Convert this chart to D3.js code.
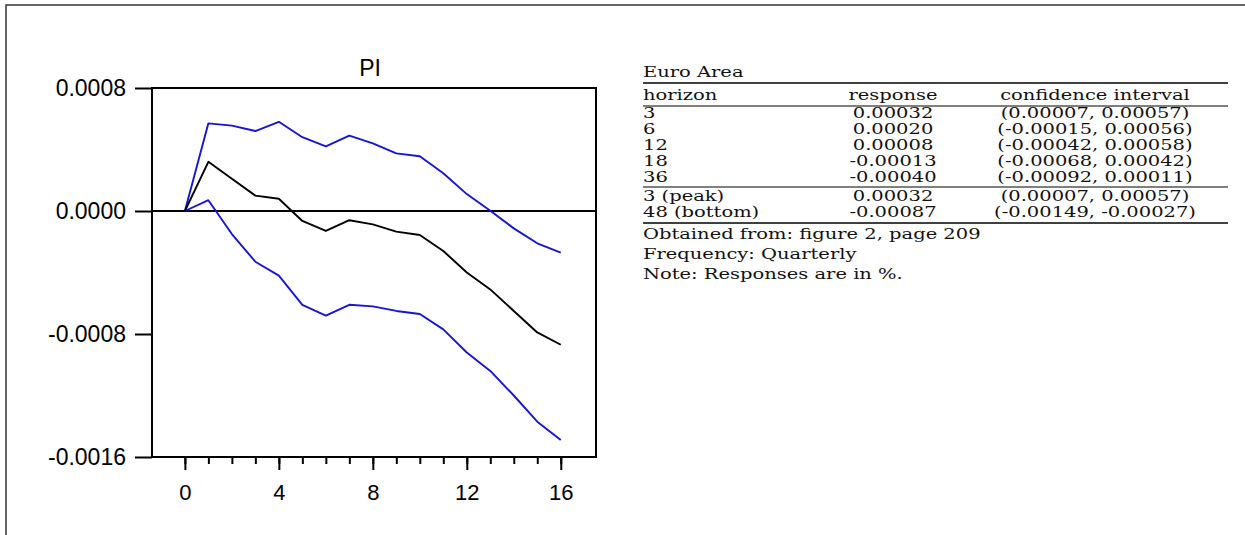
<!DOCTYPE html>
<html>
<head>
<meta charset="utf-8">
<script src="https://cdn.jsdelivr.net/npm/d3@7"></script>
<style>
    body { margin: 0; background: white; }
    .tickText { font-family: "Liberation Sans", Arial, sans-serif; }
    .tabText { font-family: "DejaVu Serif", serif; font-size: 15px; fill: #111; }
</style>
</head>
<body>
<script>
// quarters after the shock
const horizon = [0, 1, 2, 3, 4, 5, 6, 7, 8, 9, 10, 11, 12, 13, 14, 15, 16];
const response = [0, 0.00032, 0.00021, 0.00010, 0.00008, -0.000065, -0.00013, -0.00006, -0.000087,
    -0.000134, -0.000156, -0.00026, -0.00040, -0.00051, -0.00065, -0.00079, -0.00087];
const upperBand = [0, 0.00057, 0.000555, 0.00052, 0.00058, 0.00048, 0.00042, 0.00049, 0.00044,
    0.000375, 0.000356, 0.000245, 0.00011, 0.000002, -0.000113, -0.00021, -0.00027];
const lowerBand = [0, 0.00007, -0.00015, -0.00033, -0.00042, -0.00061, -0.00068, -0.00061, -0.00062,
    -0.00065, -0.00067, -0.00077, -0.00092, -0.00104, -0.00120, -0.00137, -0.00149];

const yTicks = [-0.0016, -0.0008, 0, 0.0008];
const xLabelTicks = [0, 4, 8, 12, 16];

// table on the right
const tableTitle = "Euro Area";
const tableHeader = ["horizon", "response", "confidence interval"];
const tableRows = [
    ["3", "0.00032", "(0.00007, 0.00057)"],
    ["6", "0.00020", "(-0.00015, 0.00056)"],
    ["12", "0.00008", "(-0.00042, 0.00058)"],
    ["18", "-0.00013", "(-0.00068, 0.00042)"],
    ["36", "-0.00040", "(-0.00092, 0.00011)"]
];
const extremeRows = [
    ["3 (peak)", "0.00032", "(0.00007, 0.00057)"],
    ["48 (bottom)", "-0.00087", "(-0.00149, -0.00027)"]
];
const notes = ["Obtained from: figure 2, page 209", "Frequency: Quarterly", "Note: Responses are in %."];

const wSvg = 1245;
const hSvg = 535;
const plotLeft = 152, plotRight = 596, plotTop = 88, plotBottom = 457;

let svg = d3.select("body")
    .append("svg")
    .attr("width", wSvg)
    .attr("height", hSvg)
    .style("background-color", "white");

// outer frame (only top and left edges show)
svg.append("path")
    .attr("d", `M6,535 L6,5 L1245,5`)
    .attr("fill", "none")
    .attr("stroke", "#333")
    .attr("stroke-width", 1.5);

let xScale = d3.scaleLinear([-1.4, 17.5], [plotLeft, plotRight]);
let yScale = d3.scaleLinear([-0.0016, 0.0008], [plotBottom, plotTop]);

// y axis
let yAxis = d3.axisLeft(yScale)
    .tickValues(yTicks)
    .tickSize(17)
    .tickPadding(9)
    .tickFormat(d => d.toFixed(4));
svg.append("g")
    .attr("transform", `translate(${plotLeft}, 0)`)
    .call(yAxis)
    .call(g => g.select(".domain").remove())
    .selectAll("text")
    .attr("class", "tickText")
    .attr("font-size", 23)
    .attr("fill", "black");

// x axis, minor ticks on every quarter
let xMinor = d3.axisBottom(xScale)
    .tickValues(horizon)
    .tickSize(7)
    .tickFormat("");
svg.append("g")
    .attr("transform", `translate(0, ${plotBottom})`)
    .call(xMinor)
    .call(g => g.select(".domain").remove());

let xMajor = d3.axisBottom(xScale)
    .tickValues(xLabelTicks)
    .tickSize(13)
    .tickPadding(14)
    .tickFormat(d3.format("d"));
svg.append("g")
    .attr("transform", `translate(0, ${plotBottom})`)
    .call(xMajor)
    .call(g => g.select(".domain").remove())
    .selectAll("text")
    .attr("class", "tickText")
    .attr("font-size", 22)
    .attr("fill", "black");

svg.selectAll(".tick line")
    .attr("stroke", "black")
    .attr("stroke-width", 2);

// plot box
svg.append("rect")
    .attr("x", plotLeft)
    .attr("y", plotTop)
    .attr("width", plotRight - plotLeft)
    .attr("height", plotBottom - plotTop)
    .attr("fill", "none")
    .attr("stroke", "black")
    .attr("stroke-width", 2);

// zero line
svg.append("line")
    .attr("x1", plotLeft)
    .attr("x2", plotRight)
    .attr("y1", yScale(0))
    .attr("y2", yScale(0))
    .attr("stroke", "black")
    .attr("stroke-width", 2);

const dMaker = d3.line()
    .x((d, i) => xScale(horizon[i]))
    .y(d => yScale(d));

let seriesList = [
    { values: upperBand, color: "#1515d6" },
    { values: lowerBand, color: "#1515d6" },
    { values: response, color: "black" }
];

svg.append("g")
    .selectAll("path")
    .data(seriesList)
    .enter()
    .append("path")
    .attr("fill", "none")
    .attr("stroke", d => d.color)
    .attr("stroke-width", 1.9)
    .attr("stroke-linejoin", "round")
    .attr("d", d => dMaker(d.values));

svg.append("text")
    .attr("class", "tickText")
    .attr("x", (plotLeft + plotRight) / 2 - 4)
    .attr("y", 76)
    .attr("text-anchor", "middle")
    .attr("font-size", 23)
    .text("PI");

// ---- table ----
const tabLeft = 643, tabRight = 1228;
const col2 = 893, col3 = 1095;
const stretch = 1.3;
let tab = svg.append("g");

function addRule(y, w) {
    tab.append("line")
        .attr("x1", tabLeft)
        .attr("x2", tabRight)
        .attr("y1", y)
        .attr("y2", y)
        .attr("stroke", "black")
        .attr("stroke-width", w);
}

function addText(str, x, y, anchor) {
    tab.append("text")
        .attr("class", "tabText")
        .attr("transform", `translate(${x}, ${y}) scale(${stretch}, 1)`)
        .attr("text-anchor", anchor)
        .text(str);
}

function addRow(row, y) {
    addText(row[0], tabLeft, y, "start");
    addText(row[1], col2, y, "middle");
    addText(row[2], col3, y, "middle");
}

addText(tableTitle, tabLeft, 77, "start");
addRule(83, 1.6);
addRow(tableHeader, 100);
addRule(106, 1);
tableRows.forEach((r, i) => addRow(r, 118 + i * 16));
addRule(187, 1);
extremeRows.forEach((r, i) => addRow(r, 201 + i * 16));
addRule(223, 1.6);
notes.forEach((n, i) => addText(n, tabLeft, 239 + i * 20, "start"));
</script>
</body>
</html>
